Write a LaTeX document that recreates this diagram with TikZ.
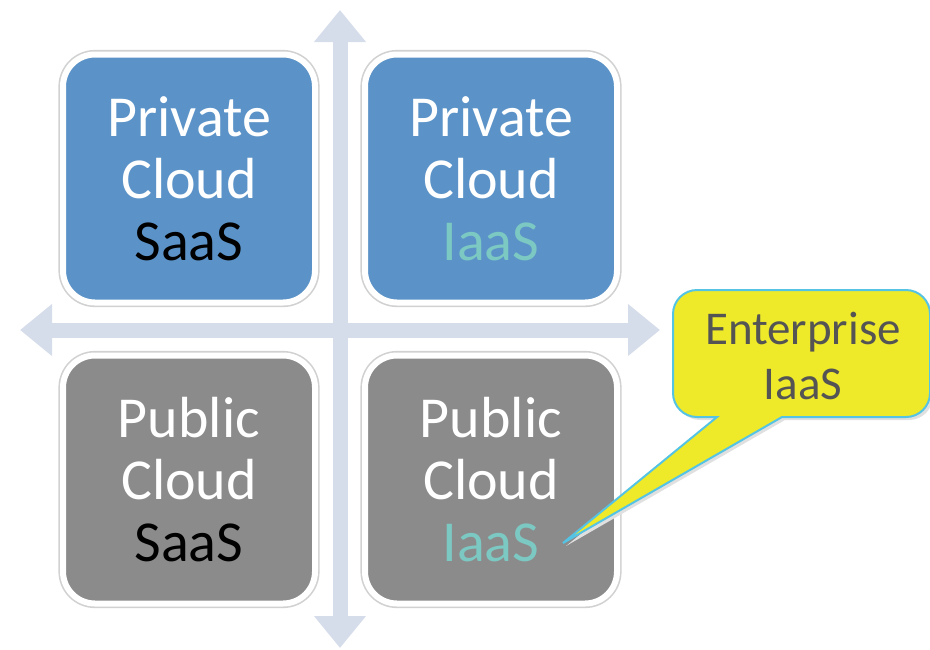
\documentclass[tikz,border=0pt]{standalone}
\usepackage{fontspec}
\setmainfont{Carlito}
\usetikzlibrary{arrows.meta,positioning}
\definecolor{BoxBlue}{HTML}{5B93C8}
\definecolor{BoxGray}{HTML}{8B8B8B}
\definecolor{AxisBlue}{HTML}{D6DDEA}
\definecolor{TealText}{HTML}{7CC8C2}
\definecolor{NoteYellow}{HTML}{EEEA2A}
\definecolor{NoteEdge}{HTML}{55C3E3}
\definecolor{NoteText}{HTML}{545454}

\begin{document}
\begin{tikzpicture}[x=0.5pt, y=-0.5pt, node distance=23.5pt and 22pt,
  quad/.style={rounded corners=16pt, draw=white, line width=3pt,
               minimum width=126pt, minimum height=124pt, align=center,
               inner sep=0pt, text=white,
               font=\fontsize{29}{31}\selectfont,
               preaction={draw=black!18, line width=4.6pt}},
  priv/.style={quad, fill=BoxBlue},
  pub/.style={quad, fill=BoxGray},
  axis/.style={draw=AxisBlue, line width=7.5pt,
               {Triangle[length=16pt,width=25pt]}-{Triangle[length=16pt,width=25pt]}},
  note/.style={fill=NoteYellow, draw=NoteEdge, line width=1pt,
               preaction={fill=black!12, transform canvas={shift={(1.5pt,-1.5pt)}}}},
  notetext/.style={align=center, text=NoteText,
                   font=\fontsize{23.5}{27.5}\selectfont}]
  \useasboundingbox (0,0) rectangle (930,649);

  % axes
  \coordinate (west) at (20,330);
  \coordinate (east) at (660,330);
  \coordinate (north) at (340,10);
  \coordinate (south) at (340,648);
  \draw[axis] (west) -- (east);
  \draw[axis] (north) -- (south);

  % quadrants
  \node[priv] (privsaas) at (189,178.5) {Private\\Cloud\\{\color{black}SaaS}};
  \node[priv, right=of privsaas] (priviaas) {Private\\Cloud\\{\color{TealText}IaaS}};
  \node[pub, below=of privsaas] (pubsaas) {Public\\Cloud\\{\color{black}SaaS}};
  \node[pub, below=of priviaas] (pubiaas) {Public\\Cloud\\{\color{TealText}IaaS}};

  % callout
  \coordinate (tip) at (563,543);
  \filldraw[note] (717,417) [rounded corners=12pt] -- (673,417) -- (673,290)
    -- (930,290) -- (930,417) [sharp corners] -- (782,417) -- (tip) -- cycle;
  \node[notetext] (ent) at (803,356) {Enterprise\\IaaS};
\end{tikzpicture}
\end{document}
